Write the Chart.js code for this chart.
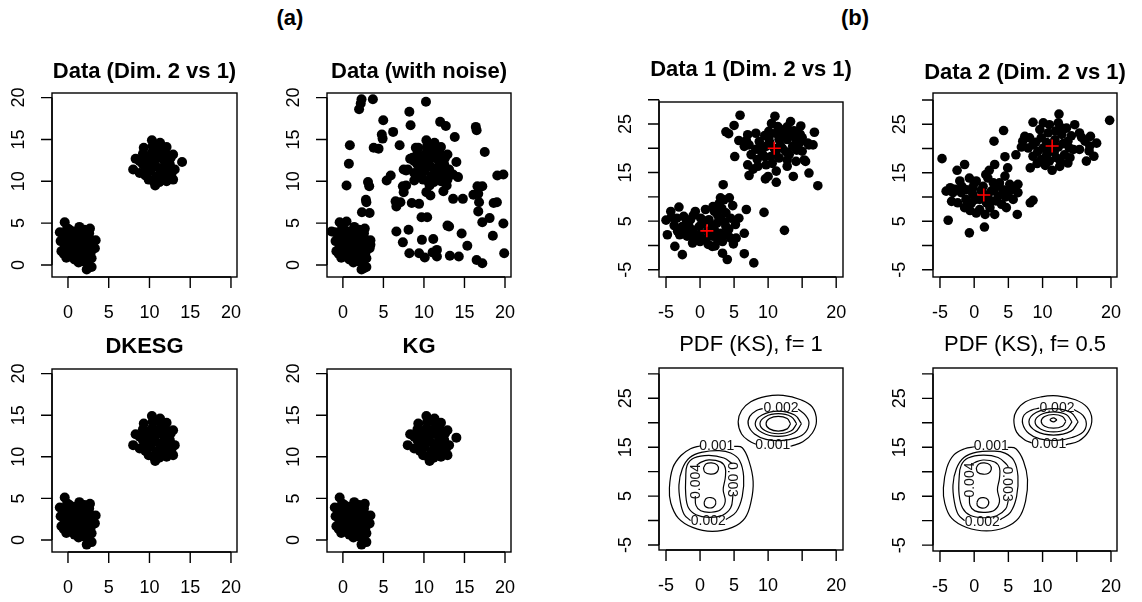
<!DOCTYPE html>
<html>
<head>
<meta charset="utf-8">
<script src="https://cdn.jsdelivr.net/npm/chart.js@4.4.1/dist/chart.umd.min.js"></script>
<style>
  html, body { margin: 0; padding: 0; background: #fff; }
  #wrap { position: relative; width: 1142px; height: 602px; overflow: hidden; }
  #wrap canvas { position: absolute; left: 0; top: 0; }
  .tag { position: absolute; width: 60px; text-align: center; font: bold 22px "Liberation Sans", Arial, sans-serif; line-height: 26px; }
</style>
</head>
<body>
<div id="wrap">
  <div class="tag" style="left:260px; top:5px;">(a)</div>
  <div class="tag" style="left:825px; top:5px;">(b)</div>
</div>
<script>
// ---- data ----

// (a) two tight clusters, dims 2 vs 1
const aCluster1 = [
  [-1.0, 3.9], [-0.4, 5.1], [0.2, 4.2], [1.4, 4.55], [2.7, 4.35], [3.4, 2.95], [3.3, 2.0],
  [2.9, 0.8], [2.9, -0.25], [2.3, -0.55], [1.8, 0.45], [0.8, 0.65], [-0.2, 0.85], [-0.8, 1.65],
  [-0.9, 2.85], [0.0, 3.0], [0.8, 3.4], [1.85, 3.0], [1.0, 2.2], [2.05, 1.85], [0.2, 1.85],
  [1.45, 1.25], [2.5, 2.6], [0.4, 3.8], [1.85, 3.8], [-0.4, 2.2], [2.3, 1.2], [1.2, 2.8],
  [0.5, 1.2], [1.6, 0.8], [2.8, 1.5], [2.2, 3.4], [0.9, 4.0], [-0.5, 3.5],
  [0.3, 2.5], [1.5, 3.5], [2.6, 3.8], [1.0, 1.6], [2.4, 0.3], [0.1, 1.2], [3.0, 2.4], [-0.5, 1.3],
  [1.7, 2.3], [0.6, 3.0], [-0.1, 4.4], [2.0, 4.2], [1.3, 0.3], [2.7, 3.1]
];
const aCluster2 = [
  [8.0, 11.4], [8.3, 12.7], [9.3, 14.0], [10.3, 14.9], [10.9, 14.3], [12.1, 14.1], [12.9, 13.2],
  [13.1, 11.4], [12.9, 10.2], [12.1, 10.0], [10.7, 9.5], [9.9, 10.2], [8.8, 11.0], [9.65, 13.0],
  [10.9, 13.2], [11.7, 12.6], [12.5, 12.0], [11.3, 11.4], [10.1, 11.2], [10.9, 10.6], [11.9, 10.8],
  [9.2, 12.0], [10.5, 12.2], [11.5, 13.6], [12.3, 11.2], [10.3, 13.4], [9.9, 11.8], [11.2, 9.9],
  [12.1, 13.2], [8.8, 12.4],
  [9.5, 11.3], [10.0, 12.7], [10.8, 11.8], [11.8, 11.8], [12.6, 12.8], [11.0, 12.8], [9.5, 10.7],
  [10.5, 10.0], [11.6, 10.4], [12.7, 10.9], [10.4, 14.2], [11.3, 14.6], [9.2, 13.3], [12.2, 12.3],
  [10.2, 11.6], [11.4, 11.0]
];
const aExtra = [[14.0, 12.3]];
const aNoise = [
  [2.3, 19.8], [2.0, 18.6], [2.2, 19.3], [3.7, 19.8], [10.25, 19.5], [0.86, 14.3], [0.74, 12.1],
  [0.45, 9.5], [3.1, 9.9], [3.25, 9.4], [2.84, 7.8], [2.9, 7.5], [2.35, 6.3], [3.3, 6.2],
  [4.98, 17.3], [4.8, 15.6], [4.9, 15.1], [6.2, 15.9], [3.8, 14.0], [4.4, 13.9], [5.4, 10.1],
  [5.9, 10.7], [8.2, 18.3], [8.35, 16.7], [7.0, 14.3], [7.5, 11.4], [7.8, 11.3], [6.6, 7.0],
  [6.5, 7.6], [7.1, 7.5], [7.4, 9.4], [7.8, 9.5], [7.5, 8.7], [8.5, 7.4], [9.4, 7.3], [6.6, 4.0],
  [8.1, 4.2], [7.4, 2.7], [8.2, 1.4], [9.4, 1.4], [9.75, 3.0], [10.1, 0.9], [9.7, 5.7], [10.4, 5.7],
  [10.3, 8.7], [10.8, 8.3], [11.15, 3.1], [11.07, 1.5], [11.6, 1.8], [11.6, 1.0], [12.9, 4.7],
  [13.1, 4.6], [13.2, 1.1], [14.3, 1.0], [12.0, 17.1], [12.7, 16.6], [13.8, 15.3], [13.6, 10.8],
  [14.2, 10.5], [13.6, 7.9], [14.8, 7.9], [14.65, 3.75], [15.35, 2.3], [16.4, 16.5], [16.5, 16.1],
  [17.5, 13.5], [16.1, 8.4], [16.6, 9.4], [17.2, 9.4], [16.7, 8.5], [16.8, 7.5], [16.7, 6.4],
  [17.2, 5.1], [18.1, 5.6], [16.5, 0.6], [17.2, 0.2], [18.5, 3.5], [18.6, 7.4], [19.0, 7.5],
  [19.05, 10.7], [19.8, 10.8], [19.8, 4.95], [19.9, 1.4], [12.4, 8.8], [8.6, 12.8], [9.0, 14.0],
  [12.8, 9.5], [8.8, 10.1], [-1.4, 4.0], [0.45, 5.2], [3.4, 2.4], [2.6, -0.4]
];

// (b) Data 1
const b1Cluster1 = [
  [3.4, 12.5], [3.0, 9.8], [3.5, 9.4], [4.3, 9.8], [4.8, 8.2], [6.8, 7.4], [9.4, 6.8], [12.4, 3.1],
  [5.7, 5.6], [6.5, 2.5], [5.3, 1.5], [4.5, 1.5], [4.9, 0.3], [6.5, -1.7], [7.9, -3.6], [4.0, -2.9],
  [3.3, -1.6], [2.2, -0.1], [1.8, 1.9], [0.8, 1.2], [-0.1, 2.2], [-1.1, 3.2], [-1.1, 0.5], [-2.6, -1.9],
  [-3.7, -0.2], [-4.8, 2.2], [-5.0, 5.2], [-4.3, 7.0], [-3.1, 7.9], [-2.4, 6.0], [-3.8, 4.1],
  [-3.0, 2.2], [-1.9, 1.9], [-1.7, 4.3], [-0.7, 7.0], [0.8, 7.4], [2.1, 7.0], [2.8, 8.6], [3.8, 6.7],
  [4.5, 5.6], [5.2, 4.3], [3.8, 3.9], [2.5, 4.6], [1.3, 5.3], [0.1, 5.6], [-0.1, 3.9], [1.1, 2.9],
  [2.1, 3.2], [3.0, 2.5], [4.0, 2.2], [3.3, 0.8], [1.8, -0.2], [0.6, 5.0], [-1.4, 5.3], [-2.1, 3.2],
  [-0.9, 1.9], [-3.3, 2.9],
  [-2.0, 5.2], [-1.0, 6.2], [0.3, 4.4], [1.8, 4.0], [3.0, 5.5], [2.6, 6.2], [-3.4, 5.6], [-2.6, 3.9],
  [0.0, 0.8], [1.2, 0.2], [2.5, 1.5], [3.6, 4.8], [4.2, 3.3], [-4.2, 5.8], [1.9, 8.0], [3.2, 7.6]
];
const b1Cluster2 = [
  [5.88, 26.8], [5.0, 24.7], [3.8, 23.4], [4.2, 23.0], [5.7, 21.6], [5.1, 18.3], [7.0, 22.8],
  [8.2, 23.1], [7.0, 16.6], [7.8, 15.7], [7.2, 14.4], [9.6, 13.7], [10.0, 14.2], [11.2, 15.3],
  [11.2, 13.0], [13.7, 14.2], [16.0, 14.9], [17.3, 12.3], [15.5, 17.3], [16.6, 20.7], [16.8, 23.3],
  [14.8, 24.6], [13.3, 25.5], [11.0, 26.6], [10.5, 25.1], [12.8, 24.4], [12.8, 23.1], [12.8, 21.8],
  [14.7, 22.9], [16.0, 20.7], [15.0, 19.4], [15.3, 17.6], [14.1, 17.3], [12.8, 16.3], [12.8, 17.6],
  [9.7, 16.6], [8.4, 17.7], [8.2, 19.8], [7.2, 20.7], [8.7, 21.4], [10.1, 22.1], [11.6, 21.8],
  [10.9, 20.0], [9.7, 20.4], [12.1, 20.0], [13.6, 20.4], [14.1, 21.8], [13.1, 18.7], [11.6, 18.0],
  [10.4, 18.3], [9.1, 19.0], [11.1, 23.1], [10.1, 23.5], [11.4, 24.5], [7.5, 18.7], [6.5, 20.4],
  [14.6, 21.1], [15.8, 21.1],
  [9.0, 20.3], [10.2, 21.3], [11.8, 20.6], [12.6, 19.3], [11.1, 19.0], [13.3, 22.6], [14.2, 19.6],
  [9.5, 22.6], [12.0, 23.0], [10.6, 16.9], [8.5, 16.3], [9.5, 18.3], [13.8, 23.6], [15.0, 22.2],
  [6.8, 21.6], [11.7, 24.0]
];
const b1Centers = [[1.0, 3.0], [10.9, 20.0]];

// (b) Data 2
const b2Cluster1 = [
  [-4.7, 17.9], [-1.4, 16.7], [-2.5, 15.5], [2.9, 21.5], [4.3, 23.7], [4.5, 18.3], [3.0, 16.7],
  [4.9, 16.0], [1.7, 14.6], [-0.7, 13.9], [-2.1, 13.3], [-4.1, 11.2], [-3.3, 9.1], [-3.8, 5.2],
  [-0.7, 2.6], [1.5, 3.8], [0.3, 6.7], [3.0, 6.4], [4.7, 7.8], [6.3, 6.4], [6.4, 12.6], [6.4, 10.9],
  [5.7, 9.5], [8.2, 8.8], [8.6, 9.3], [5.0, 10.9], [3.7, 12.9], [4.5, 14.3], [2.8, 12.9], [1.3, 12.2],
  [-0.2, 11.9], [-1.9, 10.9], [-2.4, 8.8], [-1.4, 7.8], [-0.4, 8.8], [0.8, 9.5], [1.5, 10.5],
  [2.5, 9.1], [3.5, 10.2], [4.0, 8.5], [2.3, 7.8], [0.8, 7.4], [-3.1, 10.9], [-1.1, 11.5],
  [0.3, 13.3], [2.0, 13.9], [5.2, 12.6], [4.2, 11.5], [2.5, 11.2], [-0.2, 10.5],
  [0.2, 9.5], [1.0, 11.3], [2.0, 10.0], [3.0, 11.8], [-1.2, 9.5], [-2.8, 11.6], [0.0, 12.8],
  [1.8, 8.8], [3.2, 9.2], [4.6, 10.0], [-0.6, 7.2], [1.6, 6.4], [-3.5, 11.9], [2.2, 15.5],
  [5.5, 11.5], [-1.8, 12.2]
];
const b2Cluster2 = [
  [19.8, 25.8], [12.4, 27.1], [8.6, 25.4], [10.1, 25.3], [7.4, 22.5], [7.1, 21.5], [6.1, 18.7],
  [6.9, 20.3], [8.6, 18.4], [8.2, 16.0], [9.2, 16.9], [11.4, 15.5], [12.5, 16.3], [13.7, 17.0],
  [16.4, 17.4], [17.5, 18.4], [17.9, 21.1], [16.9, 20.5], [17.0, 22.5], [15.4, 23.2], [14.7, 24.9],
  [13.5, 24.2], [12.3, 25.3], [11.0, 24.9], [9.6, 23.9], [8.1, 22.2], [8.6, 20.8], [9.8, 22.2],
  [10.8, 23.2], [11.8, 21.8], [11.4, 20.5], [12.8, 22.9], [13.7, 21.5], [14.5, 19.8], [13.2, 18.7],
  [12.0, 18.1], [10.6, 18.7], [9.8, 17.7], [15.4, 19.8], [14.0, 18.1], [11.0, 17.4], [10.1, 20.1],
  [9.3, 19.4], [16.2, 21.5], [7.9, 20.1],
  [10.6, 21.2], [12.3, 20.3], [13.0, 21.0], [11.7, 19.3], [10.5, 19.8], [12.8, 24.2], [14.2, 22.6],
  [15.7, 22.3], [9.0, 21.3], [13.9, 20.1], [12.6, 17.4], [10.4, 16.5], [16.8, 19.5], [11.9, 23.6]
];
const b2Centers = [[1.4, 10.4], [11.4, 20.5]];

// (b) PDF (KS), f = 1 : contour paths
const f1Low1 = [[5.0, 15.2], [6.2, 14.9], [7.2, 12.1], [7.8, 8.0], [7.5, 3.9], [6.6, 0.5], [4.75, -1.4], [1.8, -2.2], [-1.1, -1.4], [-3.2, 0.5], [-4.3, 3.6], [-4.5, 6.7], [-4.0, 10.8], [-2.8, 13.3], [-1.4, 14.7], [0.1, 15.3]];
const f1Low2 = [[3.8, 0.2], [5.3, 1.75], [6.2, 4.95], [6.4, 9.05], [5.8, 12.3], [4.5, 13.8], [2.8, 14.3], [0.4, 14.0], [-1.5, 12.9], [-2.6, 10.6], [-3.1, 7.3], [-2.9, 3.9], [-2.35, 1.3], [-1.4, 0.0]];
const f1Low3 = [[4.85, 5.3], [4.5, 2.6], [3.3, 1.1], [1.3, 0.66], [-0.6, 1.2], [-1.7, 2.6], [-2.1, 5.3], [-2.1, 8.7], [-1.9, 11.3], [-0.9, 12.8], [1.3, 13.35], [3.5, 12.8], [4.75, 11.6]];
const f1Low4 = [[-0.7, 5.0], [-0.6, 3.1], [0.1, 2.0], [1.6, 1.7], [3.0, 2.2], [3.7, 3.9], [3.4, 6.3], [3.7, 8.7], [3.7, 10.8], [3.0, 12.0], [1.3, 12.4], [0.1, 11.9], [-0.5, 11.3]];
const f1LowTop = [[0.5, 10.8], [0.9, 11.6], [1.7, 11.8], [2.5, 11.4], [2.7, 10.5], [2.3, 9.7], [1.5, 9.5], [0.7, 9.9], [0.5, 10.8]];
const f1LowBottom = [[0.6, 3.7], [0.9, 4.5], [1.6, 4.7], [2.2, 4.3], [2.3, 3.4], [1.9, 2.7], [1.2, 2.6], [0.7, 3.0], [0.6, 3.7]];
const f1High1 = [[13.3, 15.2], [15.1, 16.1], [16.5, 17.9], [17.1, 20.4], [16.5, 23.2], [14.8, 24.7], [12.2, 25.6], [9.7, 25.4], [7.45, 24.3], [6.1, 22.5], [5.6, 20.2], [6.1, 17.7], [7.3, 16.2], [8.2, 15.6]];
const f1High2 = [[14.4, 22.8], [15.5, 21.5], [16.0, 20.0], [15.5, 18.1], [14.1, 16.9], [11.9, 16.35], [9.7, 16.6], [8.0, 17.7], [7.1, 19.5], [7.3, 21.3], [8.3, 22.5], [9.2, 22.9]];
const f1High3 = [[14.9, 19.8], [13.9, 21.6], [11.5, 22.4], [9.1, 21.6], [8.1, 19.8], [9.1, 18.0], [11.5, 17.2], [13.9, 18.0], [14.9, 19.8]];
const f1High4 = [[14.2, 19.8], [13.4, 21.25], [11.5, 21.85], [9.6, 21.25], [8.8, 19.8], [9.6, 18.35], [11.5, 17.75], [13.4, 18.35], [14.2, 19.8]];
const f1High5 = [[13.3, 19.8], [12.8, 20.85], [11.5, 21.3], [10.2, 20.85], [9.7, 19.8], [10.2, 18.75], [11.5, 18.3], [12.8, 18.75], [13.3, 19.8]];
const f1Labels = [
  ['0.001', 2.45, 15.3, 0], ['0.002', 1.2, -0.2, 0], ['0.003', 4.6, 8.4, 90], ['0.004', -0.6, 8.0, -90],
  ['0.001', 10.7, 15.4, 0], ['0.002', 11.9, 22.9, 0]
];

// (b) PDF (KS), f = 0.5 : contour paths
const f05Low1 = [[4.9, 15.0], [6.1, 14.7], [7.2, 12.2], [7.8, 8.4], [7.5, 3.9], [6.5, 0.5], [4.5, -1.4], [1.8, -2.1], [-1.1, -1.4], [-3.3, 0.5], [-4.3, 3.6], [-4.5, 6.7], [-4.0, 10.8], [-3.0, 13.4], [-1.4, 14.7], [0.1, 15.1]];
const f05Low2 = [[3.8, 0.2], [5.3, 1.7], [6.2, 4.9], [6.4, 9.1], [5.8, 12.3], [4.5, 13.8], [2.8, 14.2], [0.4, 14.0], [-1.5, 12.9], [-2.6, 10.6], [-3.1, 7.3], [-2.9, 3.9], [-2.35, 1.3], [-1.4, 0.0]];
const f05Low3 = [[5.0, 4.2], [4.6, 2.4], [3.3, 1.0], [1.3, 0.6], [-0.6, 1.1], [-1.7, 2.6], [-2.2, 5.3], [-2.2, 8.7], [-1.9, 11.3], [-0.9, 12.8], [1.3, 13.4], [3.5, 12.9], [4.8, 11.4], [5.0, 10.9]];
const f05Low4 = [[-0.7, 5.1], [-0.6, 3.1], [0.1, 2.0], [1.6, 1.7], [3.0, 2.2], [3.7, 3.9], [3.4, 6.3], [3.7, 8.7], [3.7, 10.8], [3.0, 12.0], [1.3, 12.4], [0.1, 11.9], [-0.5, 11.4]];
const f05LowTop = [[0.3, 10.8], [0.7, 11.6], [1.5, 11.8], [2.3, 11.4], [2.5, 10.5], [2.1, 9.7], [1.3, 9.5], [0.5, 9.9], [0.3, 10.8]];
const f05LowBottom = [[0.4, 3.7], [0.7, 4.5], [1.4, 4.7], [2.0, 4.3], [2.1, 3.4], [1.7, 2.7], [1.0, 2.6], [0.5, 3.0], [0.4, 3.7]];
const f05High1 = [[13.4, 15.5], [15.3, 16.3], [16.7, 18.2], [17.2, 20.8], [16.5, 23.2], [14.8, 24.7], [12.2, 25.5], [9.8, 25.3], [7.5, 24.3], [6.2, 22.5], [5.8, 20.6], [6.2, 18.1], [7.4, 16.5], [8.4, 15.9]];
const f05High2 = [[14.6, 22.7], [15.9, 21.5], [16.4, 19.8], [15.9, 18.1], [14.3, 17.0], [12.1, 16.4], [9.6, 16.7], [8.0, 17.8], [7.1, 19.8], [7.3, 21.6], [8.4, 22.6], [9.5, 23.0]];
const f05High3 = [[15.2, 20.2], [14.15, 22.1], [11.6, 22.9], [9.05, 22.1], [8.0, 20.2], [9.05, 18.3], [11.6, 17.5], [14.15, 18.3], [15.2, 20.2]];
const f05High4 = [[14.3, 20.2], [13.5, 21.65], [11.6, 22.25], [9.7, 21.65], [8.9, 20.2], [9.7, 18.75], [11.6, 18.15], [13.5, 18.75], [14.3, 20.2]];
const f05High5 = [[13.4, 20.3], [12.9, 21.3], [11.6, 21.7], [10.3, 21.3], [9.8, 20.3], [10.3, 19.3], [11.6, 18.9], [12.9, 19.3], [13.4, 20.3]];
const f05High6 = [[12.1, 20.6], [11.6, 21.0], [11.1, 20.6], [11.6, 20.2], [12.1, 20.6]];
const f05Labels = [
  ['0.001', 2.5, 15.2, 0], ['0.002', 1.2, -0.2, 0], ['0.003', 4.8, 7.5, 90], ['0.004', -0.6, 8.3, -90],
  ['0.001', 10.9, 15.7, 0], ['0.002', 12.1, 22.9, 0]
];

// ticks
const aTicks = [0, 5, 10, 15, 20];
const aTickLabels = ['0', '5', '10', '15', '20'];
const bXTicks = [-5, 0, 5, 10, 15, 20];
const bXTickLabels = ['-5', '0', '5', '10', '', '20'];
const bYTicks = [-5, 0, 5, 10, 15, 20, 25, 30];
const bYTickLabels = ['-5', '', '5', '', '15', '', '25', ''];

// ---- drawing ----
const W = 1142, H = 602;
const FONT = '"Liberation Sans", Arial, Helvetica, sans-serif';

function pts(arr) { return arr.map(p => ({ x: p[0], y: p[1] })); }
function dots(arr, r) {
  return { data: pts(arr), pointRadius: r, pointHoverRadius: r, backgroundColor: '#000', borderWidth: 0, showLine: false };
}
function crosses(arr) {
  return { data: pts(arr), pointStyle: 'cross', pointRadius: 6.5, borderColor: '#ff0000', borderWidth: 1.6, showLine: false };
}
function contour(arr) {
  return { data: pts(arr), showLine: true, pointRadius: 0, borderColor: '#000', borderWidth: 1.2, tension: 0.4, fill: false };
}

function panel(p) {
  const canvas = document.createElement('canvas');
  canvas.width = W; canvas.height = H;
  document.getElementById('wrap').appendChild(canvas);

  const rAxes = {
    id: 'rAxes',
    afterDraw(chart) {
      const ctx = chart.ctx, ca = chart.chartArea;
      const xs = chart.scales.x, ys = chart.scales.y;
      ctx.save();
      ctx.strokeStyle = '#000';
      ctx.fillStyle = '#000';
      ctx.lineWidth = 1.4;
      ctx.strokeRect(ca.left, ca.top, ca.right - ca.left, ca.bottom - ca.top);

      // x axis
      const x0 = xs.getPixelForValue(p.xTicks[0]);
      const x1 = xs.getPixelForValue(p.xTicks[p.xTicks.length - 1]);
      ctx.beginPath();
      ctx.moveTo(x0, ca.bottom); ctx.lineTo(x1, ca.bottom);
      p.xTicks.forEach(v => {
        const px = xs.getPixelForValue(v);
        ctx.moveTo(px, ca.bottom); ctx.lineTo(px, ca.bottom + 11);
      });
      // y axis
      const y0 = ys.getPixelForValue(p.yTicks[0]);
      const y1 = ys.getPixelForValue(p.yTicks[p.yTicks.length - 1]);
      ctx.moveTo(ca.left, y0); ctx.lineTo(ca.left, y1);
      p.yTicks.forEach(v => {
        const py = ys.getPixelForValue(v);
        ctx.moveTo(ca.left, py); ctx.lineTo(ca.left - 11, py);
      });
      ctx.stroke();

      ctx.font = '18px ' + FONT;
      ctx.textAlign = 'center';
      ctx.textBaseline = 'middle';
      p.xTicks.forEach((v, i) => {
        if (p.xLabels[i]) ctx.fillText(p.xLabels[i], xs.getPixelForValue(v), ca.bottom + 36);
      });
      p.yTicks.forEach((v, i) => {
        if (!p.yLabels[i]) return;
        ctx.save();
        ctx.translate(ca.left - 33, ys.getPixelForValue(v));
        ctx.rotate(-Math.PI / 2);
        ctx.fillText(p.yLabels[i], 0, 0);
        ctx.restore();
      });

      // contour level labels
      if (p.levelLabels) {
        ctx.font = '14px ' + FONT;
        ctx.fillStyle = '#111';
        p.levelLabels.forEach(l => {
          ctx.save();
          ctx.translate(xs.getPixelForValue(l[1]), ys.getPixelForValue(l[2]));
          ctx.rotate(l[3] * Math.PI / 180);
          ctx.fillText(l[0], 0, 0);
          ctx.restore();
        });
      }

      // title
      ctx.fillStyle = '#000';
      ctx.font = (p.bold ? 'bold ' : '') + '22px ' + FONT;
      ctx.fillText(p.title, (ca.left + ca.right) / 2, p.titleY);
      ctx.restore();
    }
  };

  new Chart(canvas, {
    type: 'scatter',
    data: { datasets: p.datasets },
    options: {
      responsive: false,
      animation: false,
      events: [],
      layout: {
        autoPadding: false,
        padding: { left: p.box[0], top: p.box[1], right: W - p.box[2], bottom: H - p.box[3] }
      },
      plugins: { legend: { display: false }, tooltip: { enabled: false } },
      scales: {
        x: { type: 'linear', min: p.xr[0], max: p.xr[1], display: false },
        y: { type: 'linear', min: p.yr[0], max: p.yr[1], display: false }
      }
    },
    plugins: [rAxes]
  });
}

const aX = [-1.96, 20.74], aY = [-1.44, 20.55];
const aCommon = { xr: aX, yr: aY, xTicks: aTicks, xLabels: aTickLabels, yTicks: aTicks, yLabels: aTickLabels, bold: true };

panel(Object.assign({}, aCommon, {
  box: [52, 93, 237, 277], title: 'Data (Dim. 2 vs 1)', titleY: 72,
  datasets: [dots(aCluster1.concat(aCluster2, aExtra), 5)]
}));
panel(Object.assign({}, aCommon, {
  box: [327, 93, 511, 277], title: 'Data (with noise)', titleY: 72,
  datasets: [dots(aCluster1.concat(aCluster2, aExtra, aNoise), 5)]
}));
panel(Object.assign({}, aCommon, {
  box: [52, 369, 237, 552], title: 'DKESG', titleY: 347,
  datasets: [dots(aCluster1.concat(aCluster2), 5)]
}));
panel(Object.assign({}, aCommon, {
  box: [327, 369, 511, 552], title: 'KG', titleY: 347,
  datasets: [dots(aCluster1.concat(aCluster2, aExtra), 5)]
}));

const bCommon = { xTicks: bXTicks, xLabels: bXTickLabels, yTicks: bYTicks, yLabels: bYTickLabels };

panel(Object.assign({}, bCommon, {
  box: [659, 102, 843, 277], xr: [-6.03, 21.0], yr: [-6.5, 29.53], bold: true,
  title: 'Data 1 (Dim. 2 vs 1)', titleY: 70,
  datasets: [crosses(b1Centers), dots(b1Cluster1.concat(b1Cluster2), 4.8)]
}));
panel(Object.assign({}, bCommon, {
  box: [933, 93, 1117, 277], xr: [-6.02, 20.88], yr: [-6.5, 31.44], bold: true,
  title: 'Data 2 (Dim. 2 vs 1)', titleY: 73,
  datasets: [crosses(b2Centers), dots(b2Cluster1.concat(b2Cluster2), 4.8)]
}));
panel(Object.assign({}, bCommon, {
  box: [659, 368, 843, 550], xr: [-6.03, 21.0], yr: [-6.02, 31.2], bold: false,
  title: 'PDF (KS), f= 1', titleY: 345, levelLabels: f1Labels,
  datasets: [f1Low1, f1Low2, f1Low3, f1Low4, f1LowTop, f1LowBottom,
             f1High1, f1High2, f1High3, f1High4, f1High5].map(contour)
}));
panel(Object.assign({}, bCommon, {
  box: [933, 368, 1117, 551], xr: [-6.02, 20.88], yr: [-6.2, 31.2], bold: false,
  title: 'PDF (KS), f= 0.5', titleY: 345, levelLabels: f05Labels,
  datasets: [f05Low1, f05Low2, f05Low3, f05Low4, f05LowTop, f05LowBottom,
             f05High1, f05High2, f05High3, f05High4, f05High5, f05High6].map(contour)
}));
</script>
</body>
</html>
